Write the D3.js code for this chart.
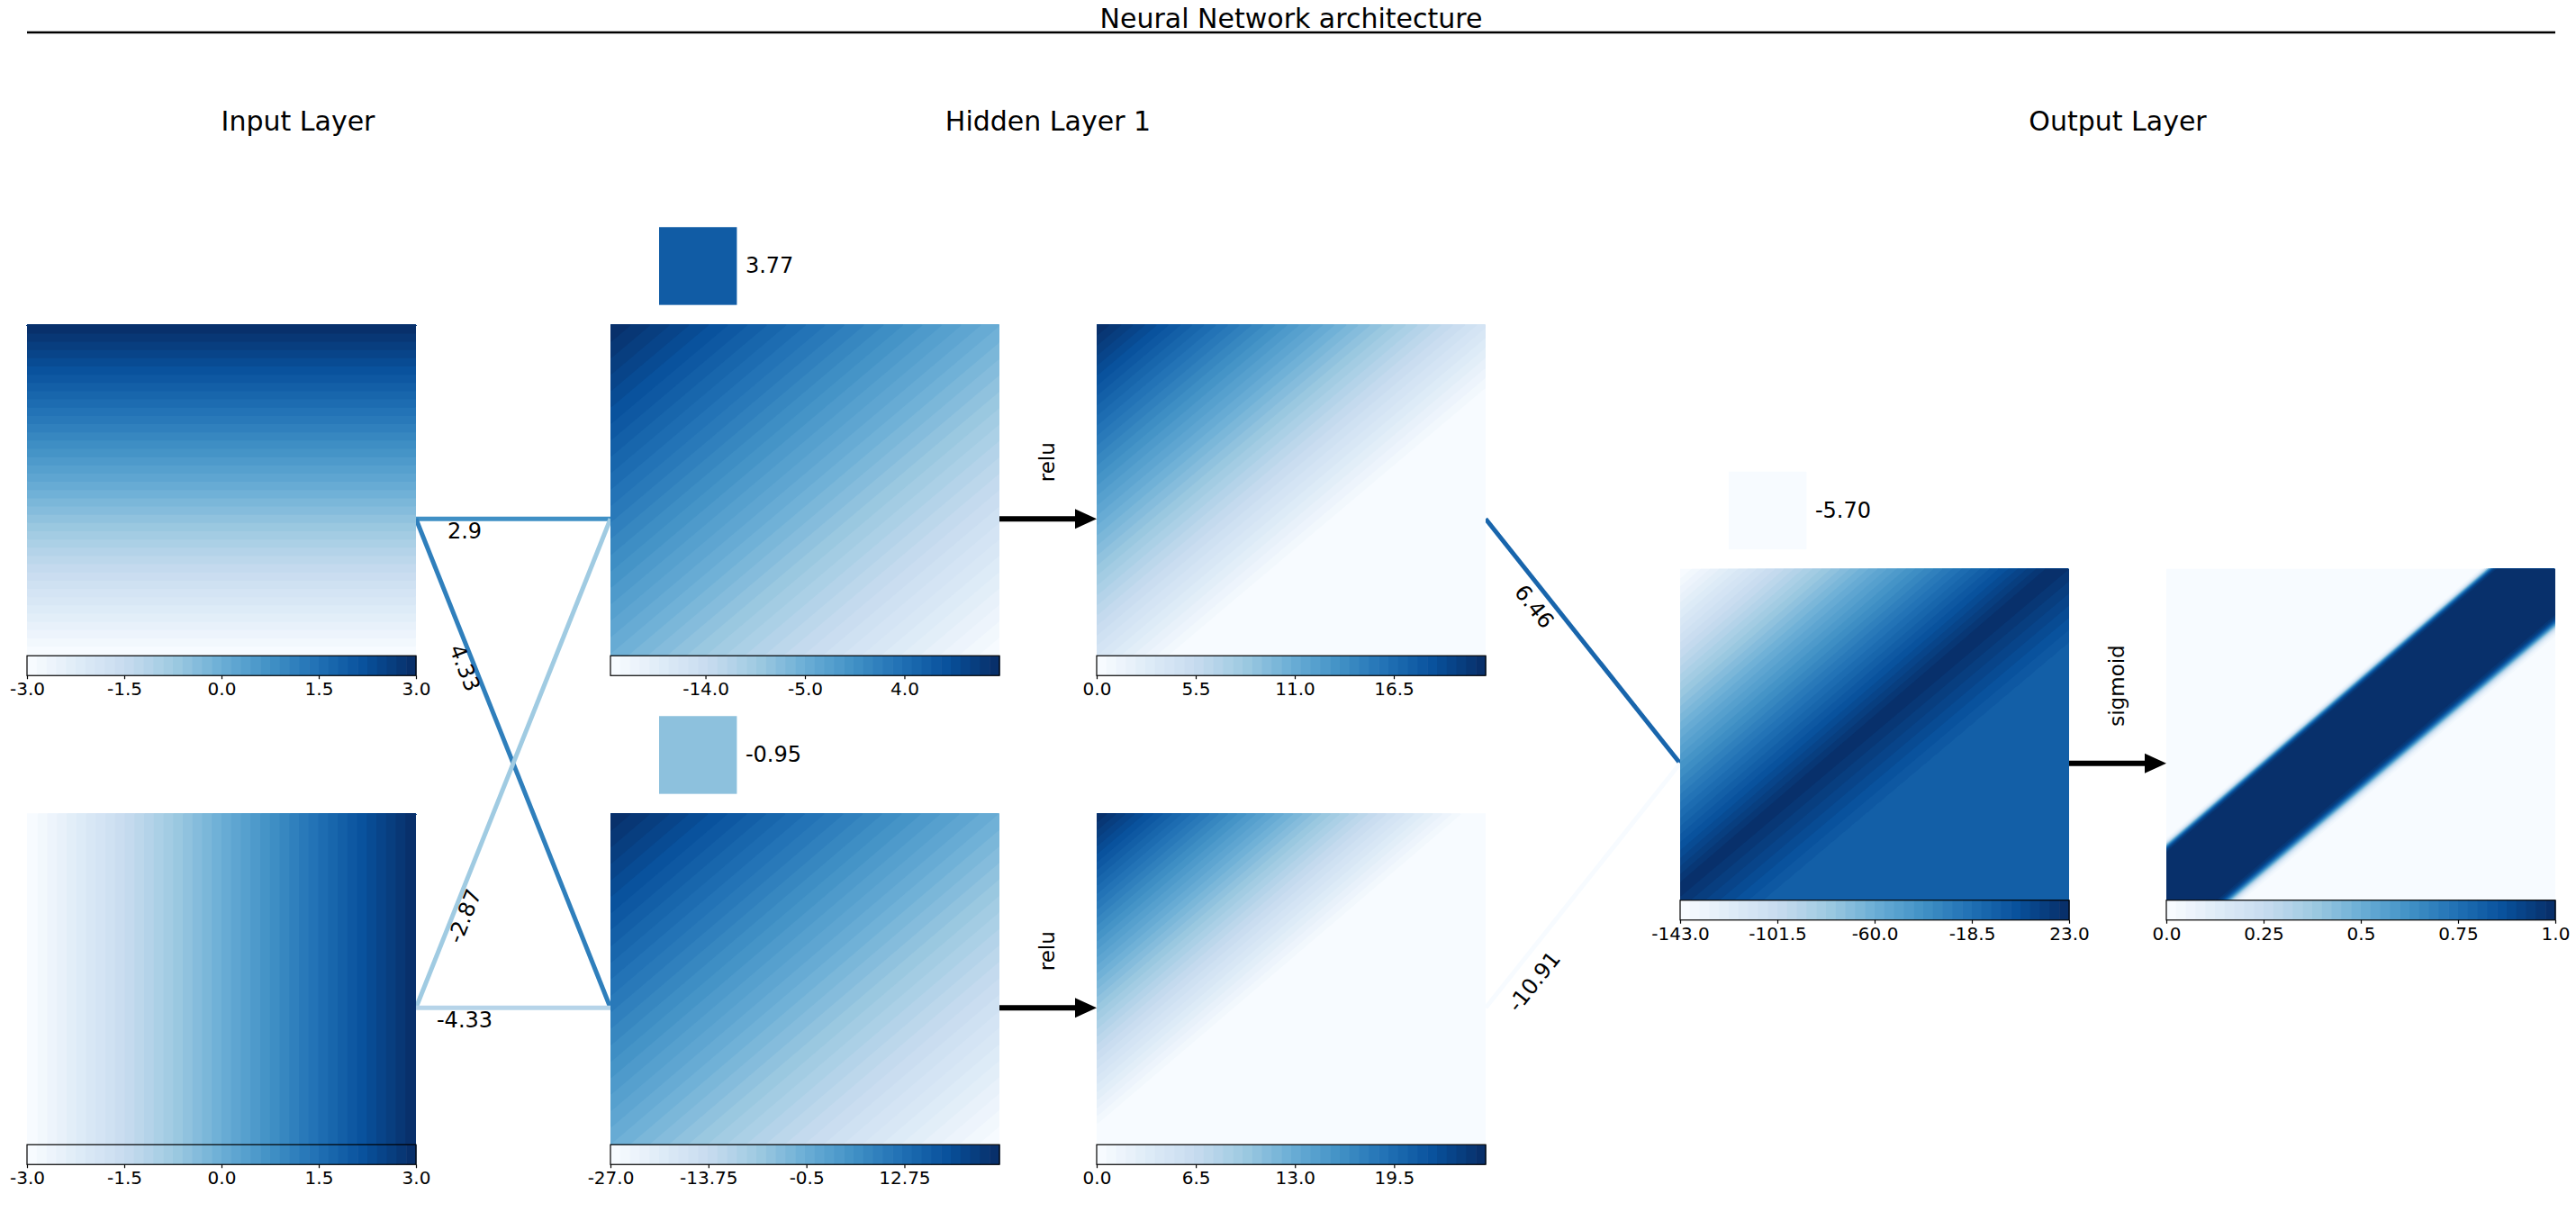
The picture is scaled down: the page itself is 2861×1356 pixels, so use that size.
<!DOCTYPE html>
<html>
<head>
<meta charset="utf-8">
<script src="https://cdn.jsdelivr.net/npm/d3@7"></script>
<style>
  body { margin: 0; background: #fff; }
  svg { display: block; font-family: "DejaVu Sans", sans-serif; }
</style>
</head>
<body>
<svg id="chart" width="2861" height="1356"></svg>
<script>
// inputs are sampled over this square
const inputRange = [-3, 3];

// weights[i][j] goes from node i to node j of the next layer
const weights1 = [[2.9, 4.33], [-2.87, -4.33]];
const biases1 = [3.77, -0.95];
const weights2 = [[6.46], [-10.91]];
const biases2 = [-5.70];

const layerTitles = ['Input Layer', 'Hidden Layer 1', 'Output Layer'];
const activations = ['relu', 'sigmoid'];

// colorbar ranges and ticks, as printed under each map
const inputCbar = [-3, 3];
const inputTicks = [-3, -1.5, 0, 1.5, 3];
const hiddenCbar = [[-22.6, 12.6], [-27, 25.6]];
const hiddenTicks = [[-14, -5, 4], [-27, -13.75, -0.5, 12.75]];
const reluCbar = [[0, 21.6], [0, 25.5]];
const reluTicks = [[0, 5.5, 11, 16.5], [0, 6.5, 13, 19.5]];
const outputCbar = [-143, 23];
const outputTicks = [-143, -101.5, -60, -18.5, 23];
const sigmoidCbar = [0, 1];
const sigmoidTicks = [0, 0.25, 0.5, 0.75, 1];

class NetworkDiagram {

  constructor(_config) {
    this.config = {
      parentElement: _config.parentElement,
      panelW: 432,
      mapH: 368,
      cbH: 22,
      axH: 432,
      midY: 847.75,
      rowGap: 543,
      inputX: 30,
      firstGap: 648,   // input map -> first hidden map
      actGap: 540,     // pre-activation map -> activated map
      nx: 216,
      ny: 184,
      nLevels: 40
    };
    this.initVis();
  }

  initVis() {
    let vis = this;
    const c = vis.config;

    vis.svg = d3.select(c.parentElement);

    // matplotlib "Blues", linear between the brewer stops
    const stops = ['#f7fbff', '#deebf7', '#c6dbef', '#9ecae1', '#6baed6', '#4292c6', '#2171b5', '#08519c', '#08306b'];
    vis.blues = d3.scaleLinear()
      .domain(d3.range(stops.length).map(i => i / (stops.length - 1)))
      .range(stops)
      .interpolate(d3.interpolateRgb)
      .clamp(true);

    const allW = weights1.flat().concat(weights2.flat());
    const wMax = d3.max(allW, Math.abs);
    vis.wColor = d3.scaleLinear([-wMax, wMax], [0, 1]);
    const bMax = d3.max(biases1.concat(biases2), Math.abs);
    vis.bColor = d3.scaleLinear([-bMax, bMax], [0, 1]);

    vis.computeFields();
    vis.renderVis();
  }

  // forward pass of the network over the input grid
  computeFields() {
    let vis = this;
    const c = vis.config;
    const gx = d3.scaleLinear([0, c.nx], inputRange);
    const gy = d3.scaleLinear([0, c.ny], [inputRange[1], inputRange[0]]);

    const n = c.nx * c.ny;
    const a = new Array(n), b = new Array(n);
    for (let j = 0; j < c.ny; j++) {
      for (let i = 0; i < c.nx; i++) {
        a[i + j * c.nx] = gy(j + 0.5);   // top input: varies down the map
        b[i + j * c.nx] = gx(i + 0.5);   // bottom input: varies across
      }
    }
    vis.inputs = [a, b];

    const dense = (prev, w, bias) => bias.map((bj, j) =>
      d3.range(n).map(k => d3.sum(prev, (p, i) => p[k] * w[i][j]) + bj));

    vis.hiddenZ = dense(vis.inputs, weights1, biases1);
    vis.hiddenA = vis.hiddenZ.map(z => z.map(v => Math.max(0, v)));
    vis.outZ = dense(vis.hiddenA, weights2, biases2);
    vis.outA = vis.outZ.map(z => z.map(v => 1 / (1 + Math.exp(-v))));
  }

  rowTop(count, j) {
    const c = this.config;
    return c.midY - (count - 1) * c.rowGap / 2 + j * c.rowGap - c.axH / 2;
  }

  renderVis() {
    let vis = this;
    const c = vis.config;

    vis.linkG = vis.svg.append('g');
    vis.mapG = vis.svg.append('g');
    vis.textG = vis.svg.append('g');

    // title with the rule under it
    const ruleX = [c.inputX, 2838];
    vis.textG.append('text')
      .attr('x', d3.mean(ruleX)).attr('y', 31)
      .attr('text-anchor', 'middle').attr('font-size', 30)
      .text('Neural Network architecture');
    vis.textG.append('line')
      .attr('x1', ruleX[0]).attr('x2', ruleX[1])
      .attr('y1', 36).attr('y2', 36)
      .attr('stroke', '#000').attr('stroke-width', 2.5);

    const xInput = c.inputX;
    const xHidden = xInput + c.firstGap;
    const xRelu = xHidden + c.actGap;
    const xOut = xRelu + c.firstGap;
    const xSig = xOut + c.actGap;

    // section titles
    const titleX = [xInput + 301, (xHidden + xRelu + c.panelW) / 2, (xOut + xSig + c.panelW) / 2];
    layerTitles.forEach((t, i) => {
      vis.textG.append('text')
        .attr('x', titleX[i]).attr('y', 145)
        .attr('text-anchor', 'middle').attr('font-size', 30)
        .text(t);
    });

    const mid = (count, j) => vis.rowTop(count, j) + c.axH / 2;

    // connections: input -> hidden
    weights1.forEach((row, i) => row.forEach((w, j) => {
      vis.drawLink(xInput + c.panelW, mid(2, i), xHidden, mid(2, j), w);
    }));
    // hidden (activated) -> output
    weights2.forEach((row, i) => row.forEach((w, j) => {
      vis.drawLink(xRelu + c.panelW, mid(2, i), xOut, mid(1, j), w);
    }));

    // input maps
    vis.inputs.forEach((vals, i) => {
      const y0 = vis.rowTop(2, i);
      vis.drawMap(vals, xInput, y0);
      vis.drawColorbar(inputCbar, inputTicks, xInput, y0 + c.mapH);
    });

    // hidden layer
    vis.hiddenZ.forEach((vals, j) => {
      const y0 = vis.rowTop(2, j);
      vis.drawBias(biases1[j], xHidden, y0);
      vis.drawMap(vals, xHidden, y0);
      vis.drawColorbar(hiddenCbar[j], hiddenTicks[j], xHidden, y0 + c.mapH);
      vis.drawArrow(xHidden + c.panelW, xRelu, mid(2, j), activations[0]);
      vis.drawMap(vis.hiddenA[j], xRelu, y0);
      vis.drawColorbar(reluCbar[j], reluTicks[j], xRelu, y0 + c.mapH);
    });

    // output layer
    vis.outZ.forEach((vals, j) => {
      const y0 = vis.rowTop(1, j);
      vis.drawBias(biases2[j], xOut, y0);
      vis.drawMap(vals, xOut, y0);
      vis.drawColorbar(outputCbar, outputTicks, xOut, y0 + c.mapH);
      vis.drawArrow(xOut + c.panelW, xSig, mid(1, j), activations[1]);
      vis.drawMap(vis.outA[j], xSig, y0);
      vis.drawColorbar(sigmoidCbar, sigmoidTicks, xSig, y0 + c.mapH);
    });
  }

  // filled contours, 40 equal bands between min and max of the field
  drawMap(values, x0, y0) {
    let vis = this;
    const c = vis.config;
    const [lo, hi] = d3.extent(values);
    const thresholds = d3.range(1, c.nLevels).map(i => lo + i * (hi - lo) / c.nLevels);
    const bands = d3.contours().size([c.nx, c.ny]).thresholds(thresholds)(values);

    const sx = d3.scaleLinear([0, c.nx], [x0, x0 + c.panelW]);
    const sy = d3.scaleLinear([0, c.ny], [y0, y0 + c.mapH]);
    const path = d3.geoPath(d3.geoTransform({
      point(x, y) { this.stream.point(sx(x), sy(y)); }
    }));

    const g = vis.mapG.append('g');
    g.append('rect')
      .attr('x', x0).attr('y', y0)
      .attr('width', c.panelW).attr('height', c.mapH)
      .attr('fill', vis.blues(0));
    g.selectAll('path')
      .data(bands)
      .join('path')
        .attr('d', path)
        .attr('fill', (d, i) => vis.blues((i + 1) / (c.nLevels - 1)));
  }

  drawColorbar(domain, ticks, x0, y0) {
    let vis = this;
    const c = vis.config;
    const cx = d3.scaleLinear(domain, [x0, x0 + c.panelW]);
    const step = (domain[1] - domain[0]) / c.nLevels;

    const g = vis.mapG.append('g');
    g.selectAll('rect.step')
      .data(d3.range(c.nLevels))
      .join('rect')
        .attr('class', 'step')
        .attr('x', i => cx(domain[0] + i * step))
        .attr('width', i => cx(domain[0] + (i + 1) * step) - cx(domain[0] + i * step) + 0.6)
        .attr('y', y0).attr('height', c.cbH)
        .attr('fill', i => vis.blues(i / (c.nLevels - 1)));
    g.append('rect')
      .attr('x', x0).attr('y', y0)
      .attr('width', c.panelW).attr('height', c.cbH)
      .attr('fill', 'none').attr('stroke', '#000').attr('stroke-width', 1.2);

    const fmt = v => Number.isInteger(v) ? v.toFixed(1) : String(v);
    const axis = g.append('g')
      .attr('transform', `translate(0,${y0 + c.cbH})`)
      .call(d3.axisBottom(cx).tickValues(ticks).tickFormat(fmt).tickSize(4).tickPadding(4));
    axis.select('.domain').remove();
    axis.selectAll('line').attr('stroke', '#000').attr('stroke-width', 1.2);
    axis.selectAll('text')
      .attr('font-family', '"DejaVu Sans", sans-serif')
      .attr('font-size', 20)
      .attr('fill', '#000');
  }

  drawBias(value, x0, y0) {
    let vis = this;
    const c = vis.config;
    const size = 0.2 * c.panelW;
    const sqX = x0 + 0.125 * c.panelW;
    const sqY = y0 - 0.05 * c.panelW - size;
    vis.mapG.append('rect')
      .attr('x', sqX).attr('y', sqY)
      .attr('width', size).attr('height', size)
      .attr('fill', vis.blues(vis.bColor(value)));
    vis.textG.append('text')
      .attr('x', sqX + size + 9.5).attr('y', sqY + size / 2)
      .attr('dominant-baseline', 'central')
      .attr('font-size', 24)
      .text(value.toFixed(2));
  }

  drawLink(x1, y1, x2, y2, w) {
    let vis = this;
    vis.linkG.append('line')
      .attr('x1', x1).attr('y1', y1).attr('x2', x2).attr('y2', y2)
      .attr('stroke', vis.blues(vis.wColor(w)))
      .attr('stroke-width', 5);

    // label sits a quarter of the way along, hanging under the line
    const t = 0.25;
    const ax = x1 + t * (x2 - x1), ay = y1 + t * (y2 - y1);
    const theta = Math.atan2(y2 - y1, x2 - x1);
    const txt = vis.textG.append('text')
      .attr('font-size', 24)
      .attr('text-anchor', 'middle')
      .attr('dominant-baseline', 'central')
      .text(String(w));
    const L = txt.node().getComputedTextLength();
    const boxH = L * Math.abs(Math.sin(theta)) + 24 * 1.16 * Math.abs(Math.cos(theta));
    txt.attr('transform', `translate(${ax},${ay + boxH / 2}) rotate(${theta * 180 / Math.PI})`);
  }

  drawArrow(x1, x2, y, label) {
    let vis = this;
    const headL = 24, headW = 22;
    vis.textG.append('line')
      .attr('x1', x1).attr('x2', x2 - headL + 2)
      .attr('y1', y).attr('y2', y)
      .attr('stroke', '#000').attr('stroke-width', 6);
    vis.textG.append('path')
      .attr('d', d3.line()([[x2 - headL, y - headW / 2], [x2, y], [x2 - headL, y + headW / 2]]) + 'Z')
      .attr('fill', '#000');
    vis.textG.append('text')
      .attr('transform', `translate(${(x1 + x2) / 2 + 7},${y - 41}) rotate(-90)`)
      .attr('font-size', 23)
      .text(label);
  }
}

new NetworkDiagram({ parentElement: '#chart' });
</script>
</body>
</html>
